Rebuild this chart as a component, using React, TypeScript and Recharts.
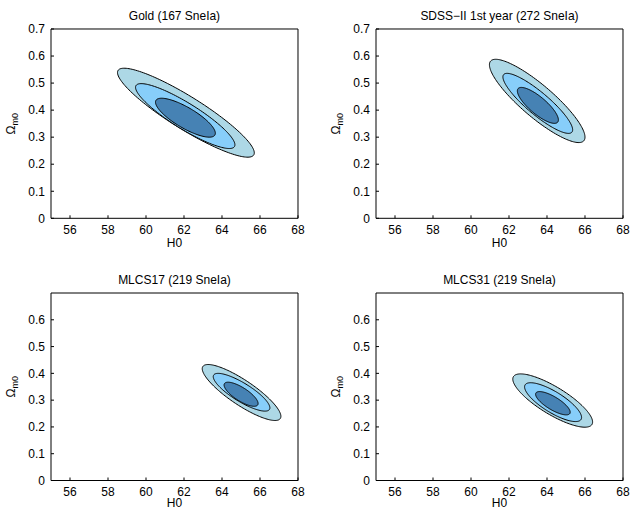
import React from 'react';
import { ComposedChart, Scatter, XAxis, YAxis, ReferenceArea, Label } from 'recharts';

// contour boxes: H0 range, Omega_m0 range, and the H0 where each contour peaks
type Contour = { h0Min: number; h0Max: number; omMin: number; omMax: number; h0AtTop: number };

const goldContours: Contour[] = [
  { h0Min: 58.5, h0Max: 65.7, omMin: 0.226, omMax: 0.555, h0AtTop: 58.85 },
  { h0Min: 59.45, h0Max: 64.68, omMin: 0.258, omMax: 0.498, h0AtTop: 59.75 },
  { h0Min: 60.5, h0Max: 63.65, omMin: 0.3, omMax: 0.444, h0AtTop: 60.82 },
];

const sdssContours: Contour[] = [
  { h0Min: 60.97, h0Max: 66.0, omMin: 0.28, omMax: 0.588, h0AtTop: 61.3 },
  { h0Min: 61.68, h0Max: 65.35, omMin: 0.314, omMax: 0.536, h0AtTop: 61.9 },
  { h0Min: 62.44, h0Max: 64.6, omMin: 0.351, omMax: 0.484, h0AtTop: 62.65 },
];

const mlcs17Contours: Contour[] = [
  { h0Min: 62.96, h0Max: 67.1, omMin: 0.224, omMax: 0.433, h0AtTop: 63.27 },
  { h0Min: 63.54, h0Max: 66.52, omMin: 0.259, omMax: 0.4, h0AtTop: 63.8 },
  { h0Min: 64.11, h0Max: 65.9, omMin: 0.277, omMax: 0.367, h0AtTop: 64.32 },
];

const mlcs31Contours: Contour[] = [
  { h0Min: 62.2, h0Max: 66.4, omMin: 0.199, omMax: 0.398, h0AtTop: 62.61 },
  { h0Min: 62.82, h0Max: 65.82, omMin: 0.22, omMax: 0.365, h0AtTop: 63.14 },
  { h0Min: 63.4, h0Max: 65.22, omMin: 0.245, omMax: 0.332, h0AtTop: 63.61 },
];

const levelColors = ['#ADD8E6', '#87CEFA', '#4682B4'];

const h0Ticks = [56, 58, 60, 62, 64, 66, 68];
const omegaTicksTop = [0, 0.1, 0.2, 0.3, 0.4, 0.5, 0.6, 0.7];
const omegaTicksBottom = [0, 0.1, 0.2, 0.3, 0.4, 0.5, 0.6];

const FONT = '"Liberation Sans", Arial, Helvetica, sans-serif';
const W = 317;
const PLOT_LEFT = 51;
const PLOT_W = 247;
const TOP = 29;

function ContourShape(props: any) {
  const { x, y, width, height, c, fill } = props;
  const rx = Math.abs(width) / 2;
  const ry = Math.abs(height) / 2;
  const cx = Math.min(x, x + width) + rx;
  const cy = Math.min(y, y + height) + ry;
  const mid = (c.h0Min + c.h0Max) / 2;
  const rho = Math.max(-1, Math.min(1, (c.h0AtTop - mid) / ((c.h0Max - c.h0Min) / 2)));
  const phi = Math.acos(rho);
  const pts: string[] = [];
  for (let i = 0; i < 160; i++) {
    const t = (i / 160) * Math.PI * 2;
    pts.push(`${(cx + rx * Math.cos(t)).toFixed(2)},${(cy - ry * Math.cos(t + phi)).toFixed(2)}`);
  }
  return <polygon points={pts.join(' ')} fill={fill} stroke="#000" strokeWidth={1} />;
}

function Panel({ title, contours, omegaTicks, plotH, left, top, xLabelGap }: {
  title: string; contours: Contour[]; omegaTicks: number[]; plotH: number; left: number; top: number; xLabelGap: number;
}) {
  const tick = { fill: '#000', fontSize: 12, fontFamily: FONT };
  const cxText = PLOT_LEFT + PLOT_W / 2;
  const markers = contours.map((c) => ({ h0: c.h0AtTop, om: c.omMax }));
  return (
    <div style={{ position: 'absolute', left, top }}>
      <ComposedChart width={W} height={TOP + plotH + 40} margin={{ top: TOP - 1, right: W - PLOT_LEFT - PLOT_W - 1, bottom: 0, left: 0 }}>
        <XAxis
          dataKey="h0" type="number" domain={[55, 68]} ticks={h0Ticks} interval={0} allowDataOverflow
          height={40} stroke="#000" tickSize={-3} tickMargin={10} tick={tick}
        >
          <Label content={() => (
            <text x={cxText} y={TOP + plotH + xLabelGap} textAnchor="middle" fontSize={12} fontFamily={FONT} fill="#000">H0</text>
          )} />
        </XAxis>
        <XAxis
          xAxisId="top" orientation="top" dataKey="h0" type="number" domain={[55, 68]} ticks={h0Ticks} interval={0}
          allowDataOverflow height={1} stroke="#000" tickSize={-3} tick={false}
        />
        <YAxis
          dataKey="om" type="number" domain={[0, 0.7]} ticks={omegaTicks} interval={0} allowDataOverflow
          width={PLOT_LEFT} stroke="#000" tickSize={-3} tickMargin={9} tick={tick}
        >
          <Label content={() => {
            const ly = TOP + plotH / 2;
            return (
              <g>
                <text x={cxText} y={TOP - 9} textAnchor="middle" fontSize={12} fontFamily={FONT} fill="#000">{title}</text>
                <text x={15} y={ly} transform={`rotate(-90 15 ${ly})`} textAnchor="middle" fontSize={12} fontFamily={FONT} fill="#000">
                  Ω<tspan fontSize={9} dy={3}>m0</tspan>
                </text>
              </g>
            );
          }} />
        </YAxis>
        <YAxis
          yAxisId="right" orientation="right" dataKey="om" type="number" domain={[0, 0.7]} ticks={omegaTicks}
          interval={0} allowDataOverflow width={1} stroke="#000" tickSize={-3} tick={false}
        />
        {contours.map((c, i) => (
          <ReferenceArea
            key={i}
            x1={c.h0Min} x2={c.h0Max} y1={c.omMin} y2={c.omMax}
            shape={(p: any) => <ContourShape {...p} c={c} fill={levelColors[i]} />}
          />
        ))}
        <Scatter data={markers} isAnimationActive={false} shape={() => <g />} />
        <Scatter data={markers} xAxisId="top" yAxisId="right" isAnimationActive={false} shape={() => <g />} />
      </ComposedChart>
    </div>
  );
}

export default function App() {
  return (
    <div style={{ position: 'absolute', left: 0, top: 0, width: 635, height: 510, overflow: 'hidden', background: '#fff' }}>
      <Panel title="Gold (167 SneIa)" contours={goldContours} omegaTicks={omegaTicksTop} plotH={189.3} left={0} top={0} xLabelGap={29} />
      <Panel title="SDSS−II 1st year (272 SneIa)" contours={sdssContours} omegaTicks={omegaTicksTop} plotH={189.3} left={325} top={0} xLabelGap={29} />
      <Panel title="MLCS17 (219 SneIa)" contours={mlcs17Contours} omegaTicks={omegaTicksBottom} plotH={187.5} left={0} top={263.5} xLabelGap={26} />
      <Panel title="MLCS31 (219 SneIa)" contours={mlcs31Contours} omegaTicks={omegaTicksBottom} plotH={187.5} left={325} top={263.5} xLabelGap={26} />
    </div>
  );
}
